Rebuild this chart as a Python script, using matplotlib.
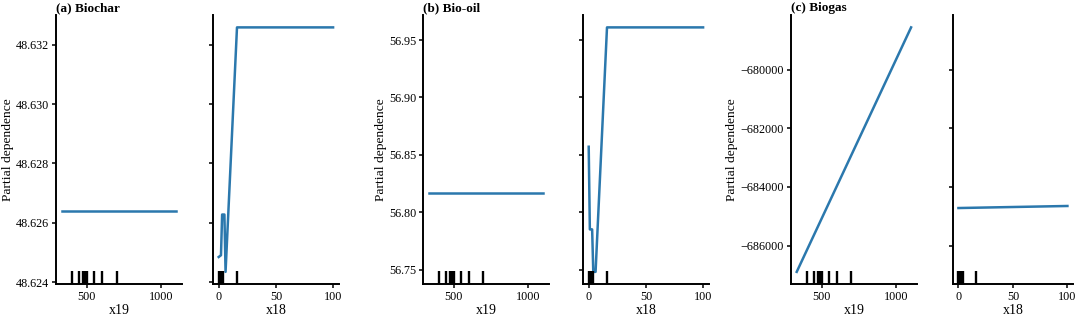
"""Partial dependence of product yields on x19 and x18."""

import matplotlib

matplotlib.use("Agg")
import matplotlib.pyplot as plt
from matplotlib.ticker import MultipleLocator, ScalarFormatter

# x19 grid ends and x18 grid values
x19_grid = [333, 1100]
x18_grid = [0, 1, 2, 3, 4, 5, 6, 16, 100]
x18_ends = [0, 100]

# deciles shown as the rug at the bottom of each axes
x19_deciles = [400, 450, 475, 490, 500, 550, 600, 700]
x18_deciles = [0, 1, 2, 3, 4, 16]

biochar_x19 = [48.6264, 48.6264]
biochar_x18 = [48.62485, 48.62488, 48.62491, 48.62628, 48.62628, 48.62628,
               48.62435, 48.63258, 48.63258]

bio_oil_x19 = [56.817, 56.817]
bio_oil_x18 = [56.857, 56.785, 56.785, 56.785, 56.748, 56.748, 56.748,
               56.961, 56.961]

biogas_x19 = [-686900, -678550]
biogas_x18 = [-684720, -684650]

titles = ["(a) Biochar", "(b) Bio-oil", "(c) Biogas"]

plt.rcParams["font.family"] = ["Liberation Serif", "DejaVu Serif"]

LINE = "#2b78ad"
BOTTOM, HEIGHT = 0.101, 0.851
LEFTS = [(0.0519, 0.1972), (0.3917, 0.5398), (0.7324, 0.8824)]
WIDTHS = [(0.1165, 0.1165), (0.1165, 0.1165), (0.1165, 0.111)]


def style(ax):
    for side in ["top", "right"]:
        ax.spines[side].set_visible(False)
    for side in ["left", "bottom"]:
        ax.spines[side].set_linewidth(1.4)
    ax.tick_params(length=3, width=1.1, labelsize=8.7, pad=2)


def panel(fig, i, y19, x18, y18, ystep):
    ax1 = fig.add_axes([LEFTS[i][0], BOTTOM, WIDTHS[i][0], HEIGHT])
    ax2 = fig.add_axes([LEFTS[i][1], BOTTOM, WIDTHS[i][1], HEIGHT], sharey=ax1)
    ax1.plot(x19_grid, y19, color=LINE, lw=1.8)
    ax2.plot(x18, y18, color=LINE, lw=1.8)
    ax1.vlines(x19_deciles, 0, 0.05, transform=ax1.get_xaxis_transform(),
               color="k", lw=1.7)
    ax2.vlines(x18_deciles, 0, 0.05, transform=ax2.get_xaxis_transform(),
               color="k", lw=1.7)

    lo = min(min(y19), min(y18))
    hi = max(max(y19), max(y18))
    span = hi - lo
    ax1.set_ylim(lo - 0.05 * span, hi + 0.05 * span)
    ax1.yaxis.set_major_locator(MultipleLocator(ystep))
    fmt = ScalarFormatter(useOffset=False)
    fmt.set_scientific(False)
    ax1.yaxis.set_major_formatter(fmt)
    plt.setp(ax2.get_yticklabels(), visible=False)

    ax1.xaxis.set_major_locator(MultipleLocator(500))
    ax2.xaxis.set_major_locator(MultipleLocator(50))
    ax1.set_xlabel("x19", fontsize=10, labelpad=1)
    ax2.set_xlabel("x18", fontsize=10, labelpad=1)
    ax1.set_ylabel("Partial dependence", fontsize=9.7, labelpad=1.5)
    ax1.set_title(titles[i], loc="left", fontsize=9.5, fontweight="bold", pad=3)
    for ax in (ax1, ax2):
        style(ax)


fig = plt.figure(figsize=(10.8, 3.16), dpi=100)
panel(fig, 0, biochar_x19, x18_grid, biochar_x18, 0.002)
panel(fig, 1, bio_oil_x19, x18_grid, bio_oil_x18, 0.05)
panel(fig, 2, biogas_x19, x18_ends, biogas_x18, 2000)
fig.savefig("out.png", dpi=100)
